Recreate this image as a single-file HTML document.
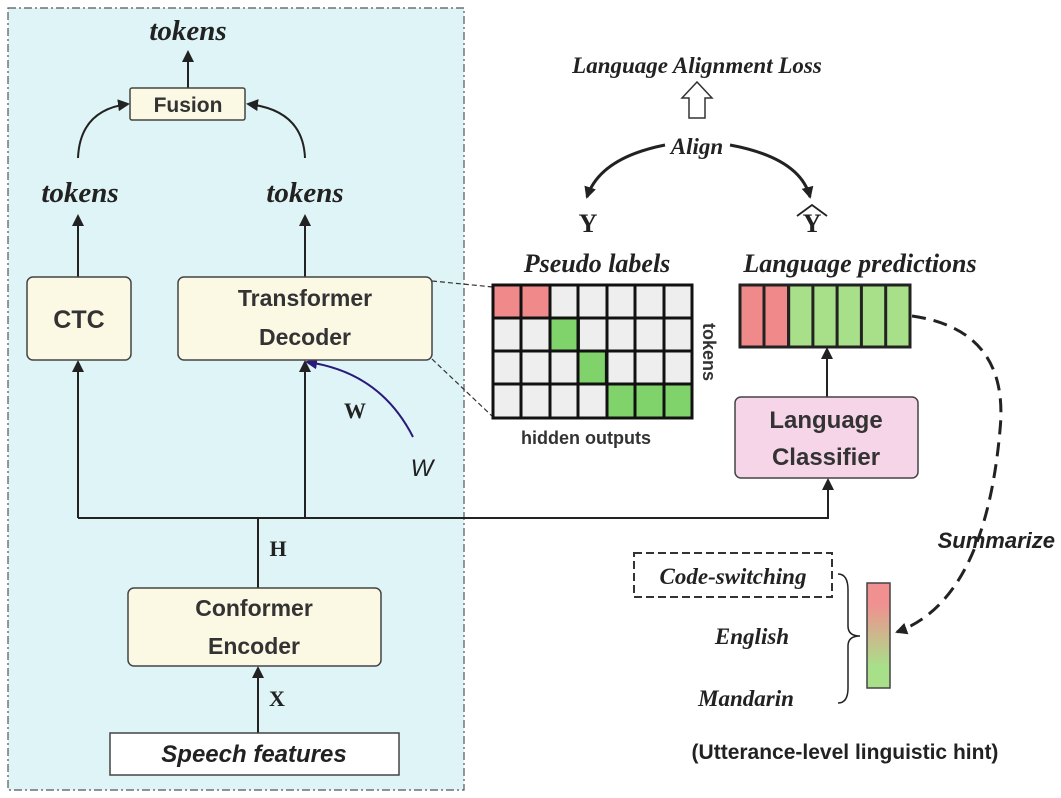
<!DOCTYPE html>
<html><head><meta charset="utf-8"><style>body{margin:0;background:#fff}svg{display:block}</style></head><body>
<svg width="1061" height="798" viewBox="0 0 1061 798" xmlns="http://www.w3.org/2000/svg">
<defs>
<marker id="a" markerWidth="12" markerHeight="12" refX="10" refY="6" orient="auto" markerUnits="userSpaceOnUse"><path d="M0,0 L12,6 L0,12 Z" fill="#222"/></marker>
<marker id="ap" markerWidth="12" markerHeight="12" refX="10" refY="6" orient="auto" markerUnits="userSpaceOnUse"><path d="M0,0 L12,6 L0,12 Z" fill="#2a1a7a"/></marker>
<linearGradient id="g" x1="0" y1="0" x2="0" y2="1"><stop offset="0.2" stop-color="#f09090"/><stop offset="0.8" stop-color="#a8e08a"/></linearGradient>
</defs>
<rect x="8" y="8" width="456" height="782" fill="#dff4f6" stroke="#555" stroke-width="1.2" stroke-dasharray="8,3,2,3"/>
<g font-family="Liberation Serif" font-weight="bold" font-style="italic" fill="#222" text-anchor="middle">
<text x="188" y="40" font-size="29">tokens</text>
<text x="80" y="202" font-size="29">tokens</text>
<text x="305" y="202" font-size="29">tokens</text>
<text x="697" y="73" font-size="23">Language Alignment Loss</text>
<text x="697" y="154" font-size="23">Align</text>
<text x="597" y="272" font-size="26">Pseudo labels</text>
<text x="860" y="272" font-size="26">Language predictions</text>
<text x="733" y="584" font-size="23">Code-switching</text>
<text x="752" y="644" font-size="23">English</text>
<text x="746" y="706" font-size="23">Mandarin</text>
</g>
<g font-family="Liberation Serif" font-weight="bold" fill="#222" text-anchor="middle">
<text x="278" y="556" font-size="22">H</text>
<text x="277" y="706" font-size="22">X</text>
<text x="355" y="418" font-size="22">W</text>
<text x="588" y="232" font-size="26">Y</text>
<text x="812" y="232" font-size="26">Y</text>
</g>
<path d="M797,216 L812,205 L827,216" fill="none" stroke="#222" stroke-width="1.8"/>
<text x="422" y="476" font-family="Liberation Sans" font-style="italic" font-size="24" fill="#222" text-anchor="middle">W</text>
<g stroke="#222" stroke-width="2" fill="none">
<line x1="188" y1="88" x2="188" y2="52" marker-end="url(#a)"/>
<path d="M78,158 Q80,110 128,104" marker-end="url(#a)"/>
<path d="M305,158 Q303,110 248,104" marker-end="url(#a)"/>
<line x1="78" y1="277" x2="78" y2="216" marker-end="url(#a)"/>
<line x1="305" y1="277" x2="305" y2="216" marker-end="url(#a)"/>
<line x1="78" y1="518" x2="78" y2="362" marker-end="url(#a)"/>
<line x1="305" y1="518" x2="305" y2="362" marker-end="url(#a)"/>
<polyline points="78,518 828,518 828,480" marker-end="url(#a)"/>
<line x1="258" y1="518" x2="258" y2="588"/>
<line x1="258" y1="733" x2="258" y2="668" marker-end="url(#a)"/>
<line x1="827" y1="397" x2="827" y2="349" marker-end="url(#a)"/>
<path d="M665,145 Q600,158 587,197" stroke-width="3" marker-end="url(#a)"/>
<path d="M730,145 Q800,158 810,197" stroke-width="3" marker-end="url(#a)"/>
<path d="M912,316 Q1010,330 1000,430 Q985,600 897,632" stroke-width="3" stroke-dasharray="14,8" marker-end="url(#a)"/>
<path d="M838,574 Q848,574 848,590 L848,626 Q848,636 860,636 Q848,636 848,646 L848,688 Q848,703 838,703" stroke-width="1.5"/>
</g>
<line x1="432" y1="281" x2="493" y2="287" stroke="#333" stroke-width="1.2" stroke-dasharray="5,3"/>
<line x1="432" y1="359" x2="493" y2="417" stroke="#333" stroke-width="1.2" stroke-dasharray="5,3"/>
<path d="M413,437 Q380,372 307,362" fill="none" stroke="#2a1a7a" stroke-width="2" marker-end="url(#ap)"/>
<path d="M689,118 L705,118 L705,98 L712,98 L697,82 L682,98 L689,98 Z" fill="#fff" stroke="#333" stroke-width="1.5"/>
<g stroke="#444" stroke-width="1.5">
<rect x="130" y="88" width="115" height="32" rx="2" fill="#fbf8e4"/>
<rect x="27" y="277" width="104" height="83" rx="6" fill="#fbf8e4"/>
<rect x="178" y="277" width="254" height="83" rx="6" fill="#fbf8e4"/>
<rect x="128" y="588" width="253" height="78" rx="6" fill="#fbf8e4"/>
<rect x="110" y="733" width="289" height="42" fill="#fff"/>
<rect x="735" y="397" width="183" height="81" rx="6" fill="#f7d5e8"/>
<rect x="867" y="583" width="23" height="105" fill="url(#g)"/>
</g>
<rect x="634" y="553" width="198" height="44" fill="none" stroke="#333" stroke-width="2" stroke-dasharray="8,4"/>
<g font-family="Liberation Sans" font-weight="bold" fill="#333" text-anchor="middle">
<text x="188" y="112" font-size="21">Fusion</text>
<text x="79" y="328" font-size="25">CTC</text>
<text x="305" y="306" font-size="23">Transformer</text>
<text x="305" y="345" font-size="23">Decoder</text>
<text x="254" y="616" font-size="23">Conformer</text>
<text x="254" y="654" font-size="23">Encoder</text>
<text x="254" y="762" font-size="24" font-style="italic" fill="#222">Speech features</text>
<text x="826" y="428" font-size="24">Language</text>
<text x="826" y="465" font-size="24">Classifier</text>
<text x="586" y="444" font-size="18">hidden outputs</text>
<text x="1055" y="548" font-size="22" font-style="italic" fill="#222" text-anchor="end">Summarize</text>
<text x="845" y="759" font-size="21" fill="#222">(Utterance-level linguistic hint)</text>
<text transform="translate(703,352) rotate(90)" font-size="18">tokens</text>
</g>
<g stroke="#111" stroke-width="3">
<rect x="493" y="285" width="199" height="133" fill="#eeeeee"/>
<rect x="493" y="285" width="57" height="33" fill="#f08a8a"/>
<rect x="550" y="318" width="28.4" height="33" fill="#7fd36a"/>
<rect x="578" y="351" width="28.4" height="33" fill="#7fd36a"/>
<rect x="607" y="384" width="85" height="34" fill="#7fd36a"/>
<path d="M521,285V418M550,285V418M578,285V418M607,285V418M635,285V418M664,285V418M493,318H692M493,351H692M493,384H692" fill="none"/>
</g>
<g stroke="#222" stroke-width="3">
<rect x="740" y="285" width="170" height="62" fill="#a8e08a"/>
<rect x="740" y="285" width="48.6" height="62" fill="#f08a8a"/>
<path d="M764,285V347M788.6,285V347M812.9,285V347M837.1,285V347M861.4,285V347M885.7,285V347" fill="none"/>
</g>
</svg>
</body></html>
